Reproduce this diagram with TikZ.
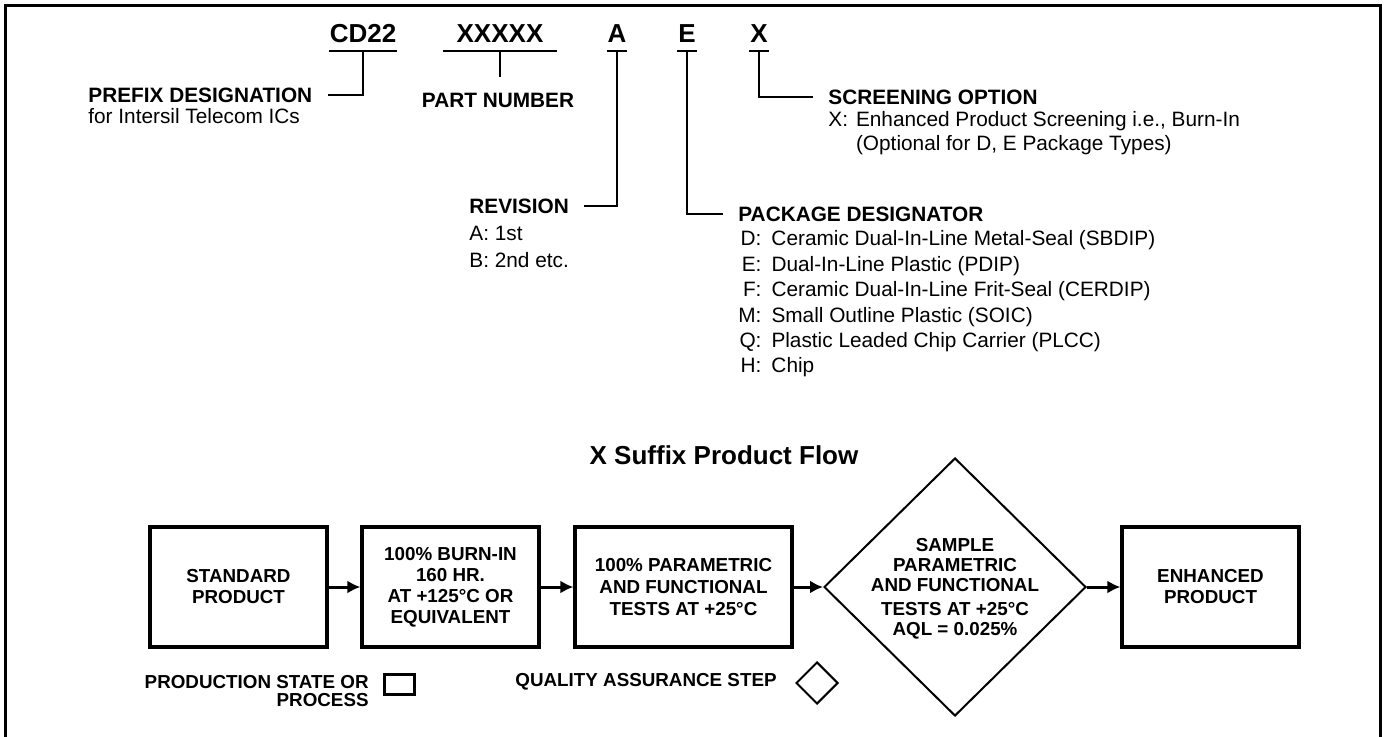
\documentclass[tikz,border=0pt]{standalone}
\usepackage{fontspec}
\setmainfont{Liberation Sans}
\usetikzlibrary{shapes.geometric,arrows.meta,calc}

\begin{document}
\begin{tikzpicture}[x=0.5pt,y=-0.5pt,
    codetxt/.style={font=\fontsize{13}{15}\selectfont\bfseries, inner sep=0pt},
    head/.style={font=\fontsize{10.4}{12}\selectfont\bfseries, inner sep=0pt},
    body/.style={font=\fontsize{10.4}{12.7}\selectfont, inner sep=0pt},
    rule/.style={line width=1pt},
    flowbox/.style={draw, line width=1.6pt, minimum width=88.5pt, minimum height=60pt,
      align=center, inner sep=0pt, font=\fontsize{9.4}{10.5}\selectfont\bfseries},
    qastep/.style={draw, diamond, line width=1pt, minimum width=131pt, minimum height=129pt, inner sep=0pt},
    flowarrow/.style={line width=1.5pt, -{Latex[length=6.5pt,width=6.5pt]}},
    legend/.style={font=\fontsize{9.4}{9}\selectfont\bfseries, inner sep=0pt, align=right}
  ]
    \useasboundingbox (0,0) rectangle (1386,737);
    \def\gap{15}
    % frame
    \draw[line width=1.5pt] (5,745) -- (5,6) -- (1380,6) -- (1380,745);

    % ordering code
    \node[codetxt] (cd)  at (363,34) {CD22};
    \node[codetxt] (pn)  at (500,34) {XXXXX};
    \node[codetxt] (rev) at (617,34) {A};
    \node[codetxt] (pkg) at (687,34) {E};
    \node[codetxt] (scr) at (759,34) {X};
    \foreach \n/\w in {cd/34,pn/57,rev/10,pkg/10,scr/10}
      \draw[rule] ($(\n)+(-\w,17)$) -- ($(\n)+(\w,17)$);

    \node[head, anchor=west] (prefix) at (88,95) {PREFIX DESIGNATION};
    \node[body, anchor=base west] (prefixtxt) at (88,124) {for Intersil Telecom ICs};
    \draw[rule] ($(cd)+(0,17)$) |- ($(prefix.east)+(\gap,0)$);

    \node[head] (partno) at (498,100) {PART NUMBER};
    \draw[rule] ($(pn)+(0,17)$) -- ($(pn |- partno.north)+(0,-15)$);

    \node[head, anchor=west] (revision) at (469,206) {REVISION};
    \node[body, font=\fontsize{10.4}{13.5}\selectfont, anchor=base west] (revisiontxt) at (469,241)
      {\begin{tabular}[t]{@{}l@{}}A: 1st\\B: 2nd etc.\end{tabular}};
    \draw[rule] ($(rev)+(0,17)$) |- ($(revision.east)+(\gap,0)$);

    \node[head, anchor=west] (package) at (738,214) {PACKAGE DESIGNATOR};
    \node[body, anchor=base west] (packagetxt) at (738,246)
      {\begin{tabular}[t]{@{}r@{\hspace{5pt}}l@{}}
        D: & Ceramic Dual-In-Line Metal-Seal (SBDIP)\\
        E: & Dual-In-Line Plastic (PDIP)\\
        F: & Ceramic Dual-In-Line Frit-Seal (CERDIP)\\
        M: & Small Outline Plastic (SOIC)\\
        Q: & Plastic Leaded Chip Carrier (PLCC)\\
        H: & Chip
      \end{tabular}};
    \draw[rule] ($(pkg)+(0,17)$) |- ($(package.west)+(-\gap,0)$);

    \node[head, anchor=west] (screen) at (828,97) {SCREENING OPTION};
    \node[body, font=\fontsize{10.4}{12}\selectfont, anchor=base west] (screentxt) at (828,127)
      {\begin{tabular}[t]{@{}r@{\hspace{4pt}}l@{}}
        X: & Enhanced Product Screening i.e., Burn-In\\
           & (Optional for D, E Package Types)
      \end{tabular}};
    \draw[rule] ($(scr)+(0,17)$) |- ($(screen.west)+(-\gap,0)$);

    % product flow
    \node[font=\fontsize{13}{15}\selectfont\bfseries, inner sep=0pt] (flowtitle) at (724,455) {X Suffix Product Flow};

    \node[flowbox] (std)   at (238.5,587) {STANDARD\\PRODUCT};
    \node[flowbox] (burn)  at (450.5,587) {100\% BURN-IN\\160 HR.\\AT +125°C OR\\EQUIVALENT};
    \node[flowbox, minimum width=108.5pt, font=\fontsize{9.4}{11}\selectfont\bfseries] (param) at (683.5,587)
      {100\% PARAMETRIC\\AND FUNCTIONAL\\TESTS AT +25°C};
    \node[qastep] (sample) at (955,587) {};
    \node[align=center, inner sep=0pt, font=\fontsize{9.4}{10}\selectfont\bfseries] (sampletxt) at (955,589)
      {SAMPLE\\PARAMETRIC\\AND FUNCTIONAL\\[2pt]TESTS AT +25°C\\AQL = 0.025\%};
    \node[flowbox] (enh)   at (1210.5,587) {ENHANCED\\PRODUCT};

    \draw[flowarrow] (std) -- (burn);
    \draw[flowarrow] (burn) -- (param);
    \draw[flowarrow] (param) -- (sample);
    \draw[flowarrow] (sample) -- (enh);

    % legend
    \node[legend, anchor=north east] (prodlbl) at (369,675) {PRODUCTION STATE OR\\PROCESS};
    \node[draw, line width=1.5pt, minimum width=15pt, minimum height=10pt, inner sep=0pt] (prodkey) at (399,684) {};
    \node[legend, anchor=east] (qalbl) at (777,682) {QUALITY ASSURANCE STEP};
    \node[draw, diamond, line width=1pt, minimum size=21pt, inner sep=0pt] (qakey) at (817,683) {};
  \end{tikzpicture}
\end{document}
